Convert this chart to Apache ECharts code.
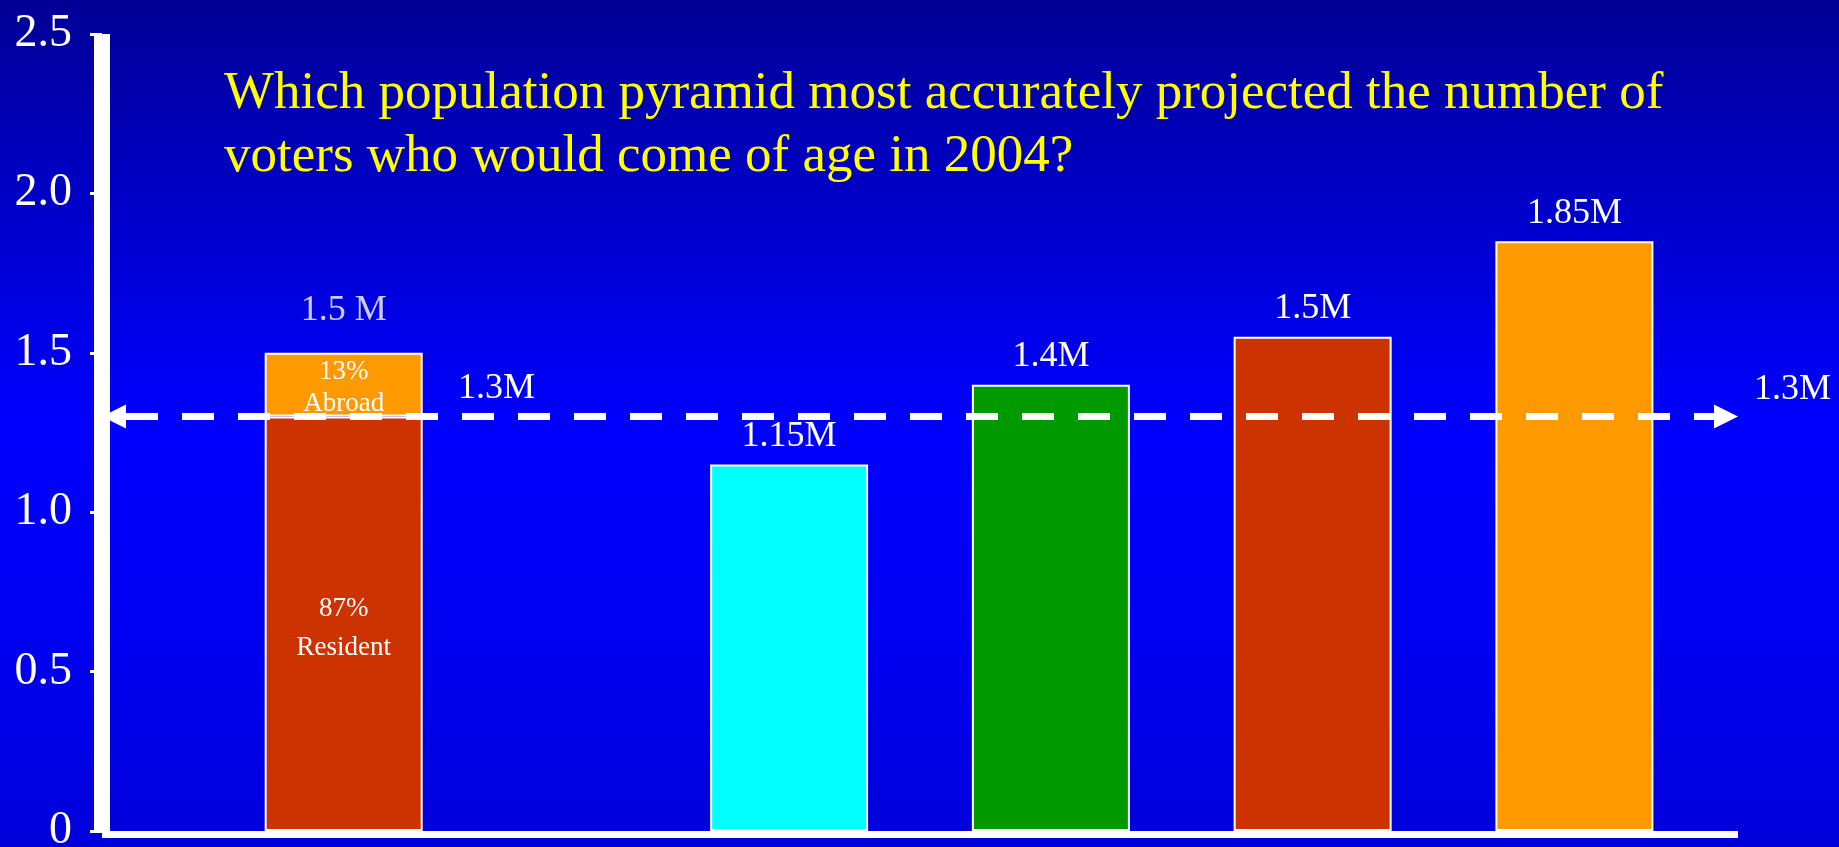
<!DOCTYPE html>
<html>
<head>
<meta charset="utf-8">
<script src="https://cdn.jsdelivr.net/npm/echarts@6.0.0/dist/echarts.min.js"></script>
<style>
html, body { margin: 0; padding: 0; width: 100%; height: 100%; overflow: hidden;
  background: linear-gradient(to bottom, #000096 0%, #0000FF 50%, #0000F2 75%, #0000DA 100%); }
#chart { width: 1839px; height: 847px; }
</style>
</head>
<body>
<div id="chart"></div>
<script>
// ---- data ----
const titleLines = ['Which population pyramid most accurately projected the number of',
                    'voters who would come of age in 2004?'];
const categories = ['2004 actual', 'Pyramid 1', 'Pyramid 2', 'Pyramid 3', 'Pyramid 4'];
const actualParts = [1.3, 0.2];                       // resident, abroad
const actualPartLabels = ['87%\nResident', '13%\nAbroad'];
const actualTotal = 1.5;
const actualTotalLabel = '1.5 M';
const projectionValues = [1.15, 1.4, 1.55, 1.85];
const projectionLabels = ['1.15M', '1.4M', '1.5M', '1.85M'];
const referenceValue = 1.3;
const referenceLabel = '1.3M';
const yTickLabels = ['0', '0.5', '1.0', '1.5', '2.0', '2.5'];

// ---- layout (not data) ----
const ACTUAL_SLOTS = 44, ACTUAL_SLOT = 6;
const PROJ_SLOTS = 25, PROJ_SLOT_OF = [10, 14, 18, 22];
const projectionColors = ['#00FFFF', '#009900', '#CC3300', '#FF9900'];
const FONT = 'Liberation Serif, Times New Roman, serif';

const actualAxisData = Array.from({ length: ACTUAL_SLOTS }, (_, i) =>
  i === ACTUAL_SLOT ? categories[0] : 'a' + i);
const projAxisData = Array.from({ length: PROJ_SLOTS }, (_, i) => {
  const k = PROJ_SLOT_OF.indexOf(i);
  return k >= 0 ? categories[k + 1] : 'p' + i;
});

const barBase = { type: 'bar', stack: 'all', barWidth: 158, animation: false };
const border = { borderColor: '#FFFFFF', borderWidth: 2 };
const white = { color: '#FFFFFF', fontFamily: FONT };

const chart = echarts.init(document.getElementById('chart'), null, { renderer: 'canvas' });
chart.setOption({
  backgroundColor: 'transparent',
  animation: false,
  title: {
    text: titleLines.join('\n'),
    left: 219, top: 58,
    textStyle: { color: '#FFFF00', fontFamily: FONT, fontSize: 53, fontWeight: 'normal', lineHeight: 63 }
  },
  grid: { left: 102, right: 101, top: 34, bottom: 16, outerBoundsMode: 'none', containLabel: false },
  xAxis: [{
    type: 'category', data: actualAxisData, boundaryGap: true, offset: 3.5,
    axisLine: { show: true, onZero: false, lineStyle: { color: '#FFFFFF', width: 7, cap: 'butt' } },
    axisTick: { show: false }, axisLabel: { show: false }, splitLine: { show: false }
  }, {
    type: 'category', data: projAxisData, boundaryGap: true, show: false,
    axisLine: { onZero: false }
  }],
  yAxis: {
    type: 'value', min: 0, max: 2.5, interval: 0.5, z: 3,
    axisLine: { show: true, lineStyle: { color: '#FFFFFF', width: 16, cap: 'butt' } },
    axisTick: { show: true, length: 12, lineStyle: { color: '#FFFFFF', width: 3 } },
    splitLine: { show: false },
    axisLabel: Object.assign({ fontSize: 46, margin: 30, padding: [0, 0, 4, 0],
      formatter: v => yTickLabels[Math.round(v / 0.5)] }, white)
  },
  series: [
    Object.assign({}, barBase, {
      name: 'Resident', xAxisIndex: 0,
      data: [[categories[0], actualParts[0]]],
      itemStyle: Object.assign({ color: '#CC3300' }, border),
      label: Object.assign({ show: true, position: 'inside', formatter: actualPartLabels[0],
        fontSize: 27, lineHeight: 39, offset: [0, 5] }, white)
    }),
    Object.assign({}, barBase, {
      name: 'Abroad', xAxisIndex: 0,
      data: [[categories[0], actualParts[1]]],
      itemStyle: Object.assign({ color: '#FF9900' }, border),
      label: Object.assign({ show: true, position: 'inside', formatter: actualPartLabels[1],
        fontSize: 27, lineHeight: 32, offset: [0, 3] }, white)
    }),
    Object.assign({}, barBase, {
      name: 'Projections', xAxisIndex: 1,
      clip: false,
      data: projectionValues.map((v, i) => ({
        value: [categories[i + 1], v],
        itemStyle: Object.assign({ color: projectionColors[i] }, border)
      })),
      label: Object.assign({ show: true, position: 'top', distance: 10,
        formatter: p => projectionLabels[p.dataIndex], fontSize: 36 }, white),
      markLine: {
        silent: true, animation: false,
        symbol: ['triangle', 'triangle'],
        symbolSize: [24, 24],
        symbolOffset: [[0, 12], [0, 12]],
        lineStyle: { color: '#FFFFFF', width: 7, type: [32, 24], dashOffset: 32 },
        label: Object.assign({ show: true, position: 'insideStartTop', distance: [356, 10],
          formatter: referenceLabel, fontSize: 36 }, white),
        emphasis: { disabled: true },
        data: [{ yAxis: referenceValue }]
      }
    }),
    {
      type: 'scatter', name: 'Total', xAxisIndex: 0, animation: false, silent: true, clip: false,
      symbolSize: 0,
      data: [[categories[0], actualTotal]],
      label: Object.assign({ show: true, position: 'top', distance: 24,
        formatter: actualTotalLabel, fontSize: 36 }, white),
      markLine: {
        silent: true, animation: false, symbol: ['none', 'none'],
        lineStyle: { color: 'rgba(0,0,0,0)', width: 0 },
        label: Object.assign({ show: true, position: 'end', distance: [16, 0],
          formatter: referenceLabel + '\n ', fontSize: 36, lineHeight: 54 }, white),
        emphasis: { disabled: true },
        data: [{ yAxis: referenceValue }]
      }
    }
  ]
});
</script>
</body>
</html>
